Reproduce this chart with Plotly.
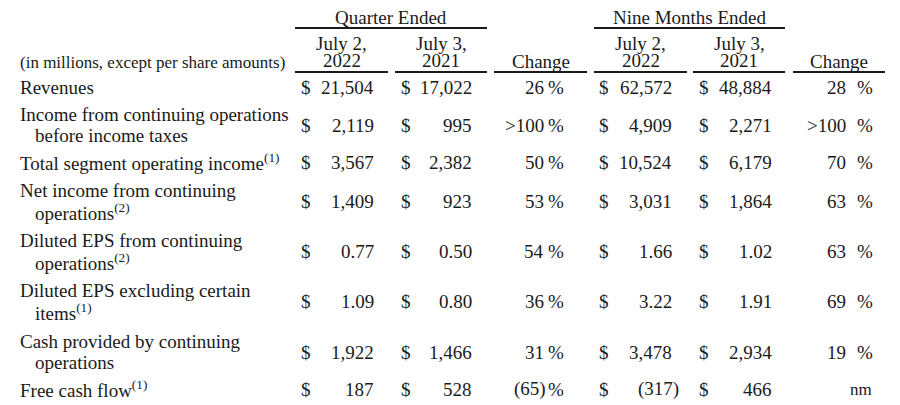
import plotly.graph_objects as go

W, H = 900, 405
OFF = 8  # page body margin in the browser
FONT = "Liberation Serif"
SIZE = 19
INK = "#1a1a1a"

# row labels (one or two lines each)
labels = [
    ["Revenues"],
    ["Income from continuing operations", "before income taxes"],
    ["Total segment operating income<sup>(1)</sup>"],
    ["Net income from continuing", "operations<sup>(2)</sup>"],
    ["Diluted EPS from continuing", "operations<sup>(2)</sup>"],
    ["Diluted EPS excluding certain", "items<sup>(1)</sup>"],
    ["Cash provided by continuing", "operations"],
    ["Free cash flow<sup>(1)</sup>"],
]

q_2022 = ["21,504", "2,119", "3,567", "1,409", "0.77", "1.09", "1,922", "187"]
q_2021 = ["17,022", "995", "2,382", "923", "0.50", "0.80", "1,466", "528"]
q_change = ["26", ">100", "50", "53", "54", "36", "31", "(65)"]
n_2022 = ["62,572", "4,909", "10,524", "3,031", "1.66", "3.22", "3,478", "(317)"]
n_2021 = ["48,884", "2,271", "6,179", "1,864", "1.02", "1.91", "2,934", "466"]
n_change = ["28", ">100", "70", "63", "63", "69", "19", "nm"]

group_titles = ["Quarter Ended", "Nine Months Ended"]
col_titles = [["July 2,", "2022"], ["July 3,", "2021"], ["Change"],
              ["July 2,", "2022"], ["July 3,", "2021"], ["Change"]]

# layout (pixel positions)
row_y = [87, 125, 162, 201, 251, 301, 352, 389]
col_span = [(295, 388), (395, 487), (494, 587), (594, 687), (693, 785), (793, 885)]
dollar_x = [299, 399, None, 597, 697, None]
value_right = [376, 474, 546, 674, 774, 848]
pct_right = [None, None, 565, None, None, 874]

fig = go.Figure()
ann = []


def text(x, y, s, anchor="left", size=SIZE):
    ann.append(dict(x=x, y=y, text=s, showarrow=False, xanchor=anchor,
                    yanchor="middle", align=anchor,
                    font=dict(family=FONT, size=size, color=INK)))


# header
text(391, 17, group_titles[0], "center")
text(690, 17, group_titles[1], "center")
text(18, 62, "(in millions, except per share amounts)", "left", 17)
for (x0, x1), t in zip(col_span, col_titles):
    xc = (x0 + x1) / 2
    if len(t) == 2:
        text(xc, 43, t[0], "center")
        text(xc, 60, t[1], "center")
    else:
        text(xc, 61, t[0], "center")

shapes = [
    dict(type="line", x0=295, x1=487, y0=28, y1=28),
    dict(type="line", x0=594, x1=785, y0=28, y1=28),
]
for x0, x1 in col_span:
    shapes.append(dict(type="line", x0=x0, x1=x1, y0=72, y1=72))
for s in shapes:
    s.update(xref="x", yref="y", line=dict(color=INK, width=1.8))

# body
cols = [q_2022, q_2021, q_change, n_2022, n_2021, n_change]
for i, y in enumerate(row_y):
    lines = labels[i]
    if len(lines) == 1:
        text(18, y, lines[0])
    else:
        text(18, y - 10.5, lines[0])
        text(33, y + 10.5, lines[1])
    for c, vals in enumerate(cols):
        v = vals[i]
        if dollar_x[c] is not None:
            text(dollar_x[c], y, "$")
        if v == "nm":
            text(pct_right[c], y, v, "right", 17)
            continue
        if v.startswith("("):
            shift = 7 if pct_right[c] is None else 2
        else:
            shift = 0
        text(value_right[c] + shift, y, v, "right")
        if pct_right[c] is not None:
            text(pct_right[c] + 1, y, "%", "right")

fig.update_layout(
    width=W, height=H,
    margin=dict(l=0, r=0, t=0, b=0),
    paper_bgcolor="white", plot_bgcolor="white",
    xaxis=dict(range=[OFF, W + OFF], visible=False, fixedrange=True),
    yaxis=dict(range=[H + OFF, OFF], visible=False, fixedrange=True),
    annotations=ann, shapes=shapes, showlegend=False,
)
fig.write_html("out.html")
